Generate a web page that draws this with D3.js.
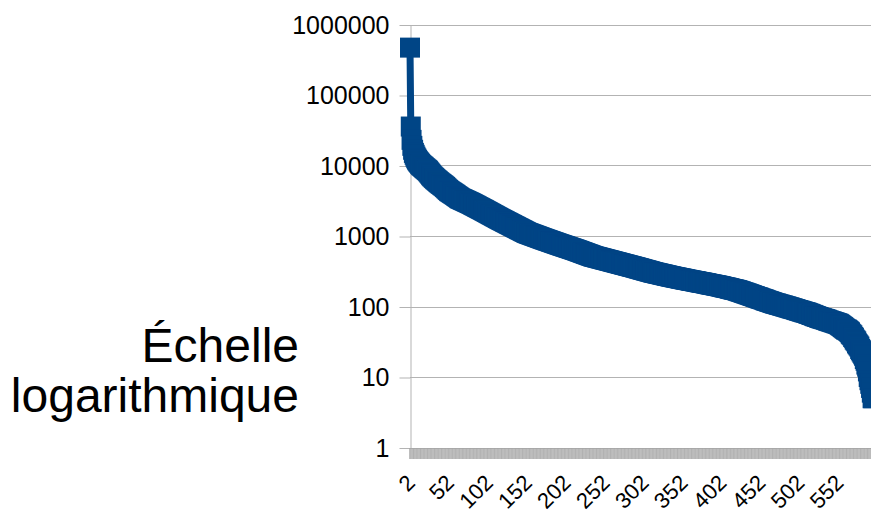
<!DOCTYPE html>
<html>
<head>
<meta charset="utf-8">
<script src="https://cdn.jsdelivr.net/npm/d3@7"></script>
<style>
  html, body { margin: 0; padding: 0; background: #ffffff; }
  svg { display: block; font-family: "Liberation Sans", Arial, sans-serif; }
</style>
</head>
<body>
<svg id="chart" width="871" height="512"></svg>
<script>
// Rank-ordered counts, first rank is 2
const firstCategory = 2;
const values = [
  470000, 35700, 23100, 19000, 16700, 15100, 14200, 13350, 12650, 12100, 11650, 11240, 10900, 10540, 10230,
  10010, 9800, 9590, 9380,
  9175, 8980, 8790, 8600, 8410,
  8140, 7880, 7630, 7385, 7150,
  6975, 6810, 6640, 6480,
  6340, 6205, 6070, 5945, 5815, 5690,
  5580, 5475, 5370, 5270, 5165, 5070,
  4950, 4830, 4710, 4600, 4490, 4380,
  4310, 4235, 4165, 4100, 4030, 3965, 3900,
  3830, 3760, 3690, 3625, 3560, 3495, 3430,
  3390, 3350, 3310, 3275, 3235, 3200, 3160,
  3125, 3085, 3050, 3015, 2980, 2945, 2910,
  2870, 2835, 2795, 2760, 2720, 2690, 2650, 2615, 2580, 2545, 2510, 2480, 2445, 2415, 2380, 2350,
  2318, 2286, 2254, 2223, 2192, 2162, 2132, 2103, 2074, 2045, 2017, 1989, 1962, 1935, 1908, 1882, 1856, 1830, 1805, 1780, 1755,
  1732, 1710, 1688, 1666, 1644, 1623, 1602, 1581, 1560, 1540, 1520, 1500, 1481, 1461, 1442, 1424, 1405, 1387, 1369, 1351,
  1334, 1316, 1299, 1282, 1266, 1249, 1233, 1217, 1201, 1186, 1170, 1155, 1140, 1125, 1110,
  1100, 1089, 1079, 1069, 1059, 1049, 1040, 1030, 1020, 1011, 1002, 992, 983, 974, 965, 956, 947, 938, 929, 921, 912,
  904, 896, 888, 880, 872, 865, 857, 849, 842, 834, 827, 820, 812, 805, 798, 791, 784, 777, 770, 763, 757, 750,
  744, 737, 731, 725, 719, 713, 707, 701, 695, 689, 683, 677, 672, 666, 660, 655, 649, 644, 638, 633, 627,
  621, 615, 610, 604, 598, 593, 587, 582, 576, 571, 566, 560, 555, 550, 545, 540, 535, 530, 525, 520, 515,
  512, 508, 505, 502, 498, 495, 492, 488, 485, 482, 479, 476, 472, 469, 466, 463, 460, 457, 454, 451, 448, 445,
  442, 439, 436, 433, 430, 427, 425, 422, 419, 416, 413, 411, 408, 405, 402, 400, 397, 394, 392, 389,
  387, 384, 381, 379, 376, 374, 371, 369, 366, 364, 362, 359, 357, 354,
  351, 349, 347, 344, 342, 339, 337, 334, 332, 330, 327, 325, 323, 321, 318, 316, 314, 312, 309, 307, 305,
  303, 301, 300, 298, 296, 294, 293, 291, 289, 288, 286, 284, 283, 281, 279, 278, 276, 274, 273, 271, 270, 268,
  267, 265, 264, 262, 261, 260, 258, 257, 256, 254, 253, 252, 250, 249, 248, 247, 245, 244, 243, 241, 240, 239,
  238, 237, 236, 234, 233, 232, 231, 230, 229, 228, 227, 226, 224, 223, 222, 221, 220, 219, 218, 217,
  216, 215, 214, 213, 212, 210, 209, 208, 207, 206, 205, 204, 203, 202, 201, 200, 199, 198, 197, 196, 195, 194,
  193, 192, 190, 189, 188, 187, 186, 185, 184, 183, 182, 181, 179, 178, 177, 176, 175, 174, 173, 172, 171, 170,
  168, 167, 165, 164, 163, 161, 160, 158, 157, 156, 154, 153, 152, 150, 149, 148, 146, 145, 144, 142, 141, 140, 139, 137, 136, 135,
  134, 133, 131, 130, 129, 128, 127, 126, 125, 123, 122, 121, 120, 119, 118, 117, 116, 115, 114, 113,
  112, 111, 110, 110, 109, 108, 107, 106, 106, 105, 104, 103, 103, 102, 101, 100, 100, 99, 98, 97, 97, 96,
  95, 94, 94, 93, 92, 92, 91, 90, 89, 89, 88, 87, 87, 86, 85, 85, 84, 83, 83, 82, 82, 81,
  80, 79, 79, 78, 77, 76, 76, 75, 74, 73, 73, 72, 71, 71, 70,
  69, 69, 68, 68, 67, 67, 66, 66, 65, 65, 64,
  63, 63, 62, 62, 61, 61, 60, 60, 59, 59, 58, 58, 57, 57, 56,
  55, 54, 53, 52, 51, 50, 49, 48, 47, 47, 46, 45, 44,
  43, 41, 40, 39, 37, 36,
  34, 33, 32, 30, 29, 28,
  27, 25, 24, 23,
  22, 21, 20, 18, 17,
  15, 14, 12,
  10, 9, 8,
  7, 6, 5, 5
];
const categories = values.map((v, i) => firstCategory + i);
const xTickLabels = ["2", "52", "102", "152", "202", "252", "302", "352", "402", "452", "502", "552"];
const yTickValues = [1, 10, 100, 1000, 10000, 100000, 1000000];
const titleLines = ["Échelle", "logarithmique"];

const seriesColor = "#004586";
const gridColor = "#b3b3b3";

const svg = d3.select("#chart");
svg.append("rect").attr("width", 871).attr("height", 512).attr("fill", "#ffffff");

const plotLeft = 410;
const step = 0.7788;
const plotRight = plotLeft + step * (categories.length - 1);
const plotTop = 24.5, plotBottom = 447.5;

const x = d3.scalePoint().domain(categories).range([plotLeft, plotRight]);
const y = d3.scaleLog().domain([1, 1000000]).range([plotBottom, plotTop]);

// horizontal grid
svg.append("g").selectAll("line").data(yTickValues).join("line")
  .attr("x1", plotLeft).attr("x2", plotRight + 10)
  .attr("y1", d => Math.round(y(d)) + 0.5).attr("y2", d => Math.round(y(d)) + 0.5)
  .attr("stroke", gridColor).attr("stroke-width", 1);

// y axis via d3.axisLeft
const yAxis = d3.axisLeft(y).tickValues(yTickValues).tickFormat(d3.format("d")).tickSizeOuter(0).tickSizeInner(11).tickPadding(10);
const gy = svg.append("g").attr("transform", `translate(${plotLeft + 0.5},0.5)`).call(yAxis);
gy.select(".domain").attr("stroke", gridColor);
gy.selectAll(".tick line").attr("stroke", gridColor);
gy.selectAll(".tick text").attr("fill", "#000").attr("font-size", 25)
  .attr("font-family", "Liberation Sans, Arial, sans-serif");

// category ticks below the axis
const half = step / 2;
svg.append("g").selectAll("line").data(categories).join("line")
  .attr("x1", d => x(d) - half).attr("x2", d => x(d) - half)
  .attr("y1", plotBottom + 0.5).attr("y2", plotBottom + 11.5)
  .attr("stroke", "#a6a6a6").attr("stroke-width", 0.8);

// rotated category labels
svg.append("g").selectAll("text").data(xTickLabels).join("text")
  .attr("transform", d => `translate(${x(+d) + 6.5},484) rotate(-45)`)
  .attr("text-anchor", "end")
  .attr("font-size", 22)
  .attr("fill", "#000")
  .text(d => d);

// series line
const line = d3.line().x((d, i) => x(categories[i])).y(d => y(d));
svg.append("path").datum(values)
  .attr("d", line)
  .attr("fill", "none")
  .attr("stroke", seriesColor)
  .attr("stroke-width", 7)
  .attr("stroke-linejoin", "round");

// square markers
const ms = 20;
svg.append("g").selectAll("rect").data(values).join("rect")
  .attr("x", (d, i) => x(categories[i]) - ms / 2)
  .attr("y", d => y(d) - ms / 2)
  .attr("width", ms).attr("height", ms)
  .attr("fill", seriesColor);

// axis title
svg.append("text")
  .attr("text-anchor", "end")
  .attr("font-size", 48)
  .attr("fill", "#000")
  .selectAll("tspan").data(titleLines).join("tspan")
  .attr("x", 299)
  .attr("y", (d, i) => 362 + i * 50)
  .text(d => d);
</script>
</body>
</html>
